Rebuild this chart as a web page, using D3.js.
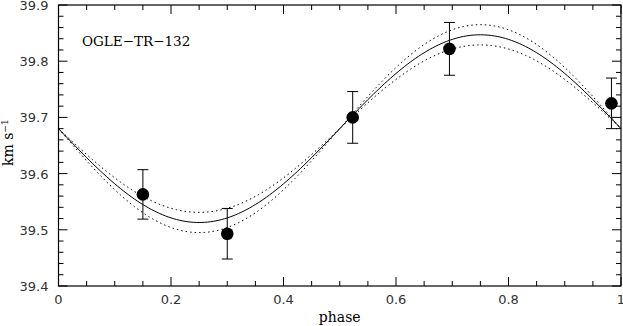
<!DOCTYPE html>
<html lang="en">
<head>
<meta charset="UTF-8">
<title>OGLE-TR-132 radial velocity</title>
<script src="https://d3js.org/d3.v7.min.js"></script>
<style>
  body { margin: 0; background: #fff; }
  svg { display: block; }
  .tick-label { font: 13px 'DejaVu Sans', sans-serif; fill: #333; }
  .serif { font-family: 'DejaVu Serif', serif; fill: #000; }
  .fit { fill: none; stroke: #000; stroke-width: 1; }
  .band { fill: none; stroke: #000; stroke-width: 1; stroke-dasharray: 1.5 3; }
  .err { stroke: #000; stroke-width: 1; }
</style>
</head>
<body>
<svg width="623" height="326"></svg>
<script>
// measured radial velocities (km/s) vs orbital phase
var phases  = [0.150, 0.300, 0.523, 0.695, 0.983];
var rv      = [39.563, 39.493, 39.700, 39.822, 39.725];
var rvErr   = [0.044, 0.045, 0.046, 0.047, 0.045];

// circular orbit fit: systemic velocity, semi-amplitude, 1-sigma on K
var gamma = 39.680, K = 0.167, sigmaK = 0.018;

var xTicks = [0, 0.2, 0.4, 0.6, 0.8, 1];
var xTickLabels = ["0", "0.2", "0.4", "0.6", "0.8", "1"];
var yTicks = [39.4, 39.5, 39.6, 39.7, 39.8, 39.9];
var yTickLabels = ["39.4", "39.5", "39.6", "39.7", "39.8", "39.9"];

var margin = {top: 5, right: 2, bottom: 40, left: 58.5},
    width = 623 - margin.left - margin.right,
    height = 326 - margin.top - margin.bottom;

var svg = d3.select("svg");
var g = svg.append("g")
    .attr("transform", "translate(" + margin.left + "," + margin.top + ")");

var x = d3.scaleLinear().domain([0, 1]).range([0, width]);
var y = d3.scaleLinear().domain([39.4, 39.9]).range([height, 0]);

// model curves
function orbit(k) {
    return d3.range(0, 1.0001, 0.005).map(function(p) {
        return [p, gamma - k * Math.sin(2 * Math.PI * p)];
    });
}
var line = d3.line()
    .x(function(d) { return x(d[0]); })
    .y(function(d) { return y(d[1]); });

g.append("path").attr("class", "band").attr("d", line(orbit(K + sigmaK)));
g.append("path").attr("class", "band").attr("d", line(orbit(K - sigmaK)));
g.append("path").attr("class", "fit").attr("d", line(orbit(K)));

// frame with inward ticks on all sides
g.append("rect")
    .attr("width", width).attr("height", height)
    .attr("fill", "none").attr("stroke", "#000").attr("stroke-width", 1.2);

var xMinor = d3.range(0, 1.0001, 0.05);
var yMinor = d3.range(39.4, 39.9001, 0.02);

function tickLen(v, step) {
    var r = Math.abs(v / step - Math.round(v / step));
    return r < 1e-6 ? 9 : 5;
}

xMinor.forEach(function(v) {
    var L = tickLen(v, 0.2);
    g.append("line").attr("class", "err")
        .attr("x1", x(v)).attr("x2", x(v)).attr("y1", height).attr("y2", height - L);
    g.append("line").attr("class", "err")
        .attr("x1", x(v)).attr("x2", x(v)).attr("y1", 0).attr("y2", L);
});
yMinor.forEach(function(v) {
    var L = tickLen(v - 39.4, 0.1);
    g.append("line").attr("class", "err")
        .attr("x1", 0).attr("x2", L).attr("y1", y(v)).attr("y2", y(v));
    g.append("line").attr("class", "err")
        .attr("x1", width).attr("x2", width - L).attr("y1", y(v)).attr("y2", y(v));
});

// tick labels
g.selectAll(".xl").data(xTicks).enter().append("text")
    .attr("class", "tick-label")
    .attr("x", function(d) { return x(d); })
    .attr("y", height + 18)
    .attr("text-anchor", "middle")
    .text(function(d, i) { return xTickLabels[i]; });

g.selectAll(".yl").data(yTicks).enter().append("text")
    .attr("class", "tick-label")
    .attr("x", -10)
    .attr("y", function(d) { return y(d) + 5; })
    .attr("text-anchor", "end")
    .text(function(d, i) { return yTickLabels[i]; });

// error bars and points
var pts = phases.map(function(p, i) { return {p: p, v: rv[i], e: rvErr[i]}; });

var eb = g.selectAll(".eb").data(pts).enter().append("g");
eb.append("line").attr("class", "err")
    .attr("x1", function(d) { return x(d.p); })
    .attr("x2", function(d) { return x(d.p); })
    .attr("y1", function(d) { return y(d.v - d.e); })
    .attr("y2", function(d) { return y(d.v + d.e); });
[-1, 1].forEach(function(s) {
    eb.append("line").attr("class", "err")
        .attr("x1", function(d) { return x(d.p) - 5.5; })
        .attr("x2", function(d) { return x(d.p) + 5.5; })
        .attr("y1", function(d) { return y(d.v + s * d.e); })
        .attr("y2", function(d) { return y(d.v + s * d.e); });
});
eb.append("circle")
    .attr("cx", function(d) { return x(d.p); })
    .attr("cy", function(d) { return y(d.v); })
    .attr("r", 6.3)
    .attr("fill", "#000");

// labels
g.append("text").attr("class", "serif")
    .attr("x", 23.5).attr("y", 41)
    .style("font-size", "13.5px")
    .text("OGLE\u2212TR\u2212132");

g.append("text").attr("class", "serif")
    .attr("x", width / 2).attr("y", height + 36)
    .attr("text-anchor", "middle")
    .style("font-size", "14px")
    .text("phase");

var yl = svg.append("text").attr("class", "serif")
    .attr("transform", "translate(13," + (margin.top + y(39.655)) + ") rotate(-90)")
    .attr("text-anchor", "middle")
    .style("font-size", "14px");
yl.append("tspan").text("km s");
yl.append("tspan").attr("dy", -5).style("font-size", "9px").text("\u22121");
</script>
</body>
</html>
